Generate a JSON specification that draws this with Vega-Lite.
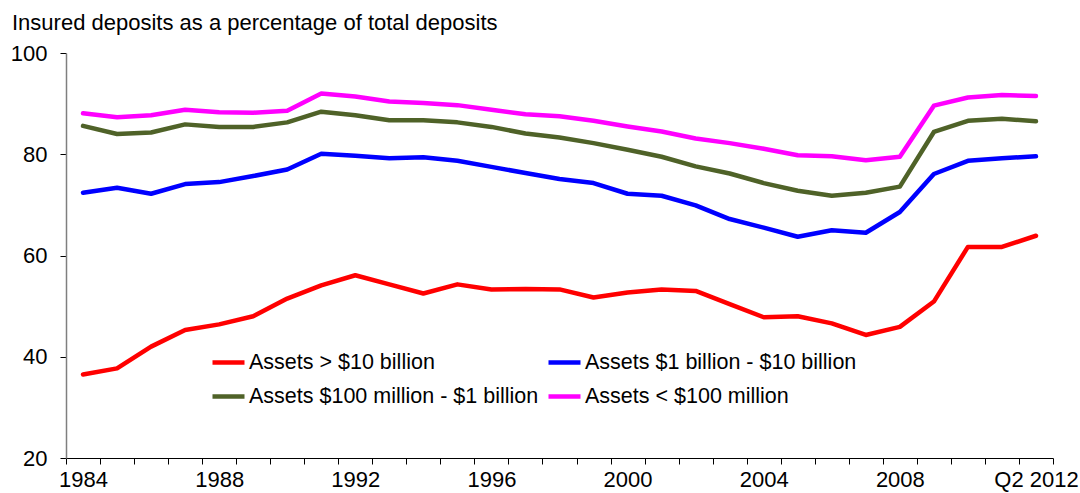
{
  "$schema": "https://vega.github.io/schema/vega-lite/v6.json",
  "width": 987,
  "height": 405,
  "autosize": {"type": "none"},
  "padding": {"left": 66, "top": 53, "right": 27, "bottom": 35},
  "background": "white",
  "title": {
    "text": "Insured deposits as a percentage of total deposits",
    "anchor": "start",
    "frame": "group",
    "dx": -54,
    "offset": -10,
    "baseline": "alphabetic",
    "font": "Liberation Sans",
    "fontSize": 22,
    "fontWeight": "normal",
    "color": "#000000"
  },
  "config": {
    "view": {"stroke": null},
    "font": "Liberation Sans"
  },
  "datasets": {
    "deposits": [
      {"period": "1984", "series": "Assets > $10 billion", "value": 36.5},
      {"period": "1985", "series": "Assets > $10 billion", "value": 37.7},
      {"period": "1986", "series": "Assets > $10 billion", "value": 42.0},
      {"period": "1987", "series": "Assets > $10 billion", "value": 45.3},
      {"period": "1988", "series": "Assets > $10 billion", "value": 46.4},
      {"period": "1989", "series": "Assets > $10 billion", "value": 48.0},
      {"period": "1990", "series": "Assets > $10 billion", "value": 51.5},
      {"period": "1991", "series": "Assets > $10 billion", "value": 54.1},
      {"period": "1992", "series": "Assets > $10 billion", "value": 56.1},
      {"period": "1993", "series": "Assets > $10 billion", "value": 54.3},
      {"period": "1994", "series": "Assets > $10 billion", "value": 52.5},
      {"period": "1995", "series": "Assets > $10 billion", "value": 54.3},
      {"period": "1996", "series": "Assets > $10 billion", "value": 53.3},
      {"period": "1997", "series": "Assets > $10 billion", "value": 53.4},
      {"period": "1998", "series": "Assets > $10 billion", "value": 53.3},
      {"period": "1999", "series": "Assets > $10 billion", "value": 51.7},
      {"period": "2000", "series": "Assets > $10 billion", "value": 52.7},
      {"period": "2001", "series": "Assets > $10 billion", "value": 53.3},
      {"period": "2002", "series": "Assets > $10 billion", "value": 53.0},
      {"period": "2003", "series": "Assets > $10 billion", "value": 50.4},
      {"period": "2004", "series": "Assets > $10 billion", "value": 47.8},
      {"period": "2005", "series": "Assets > $10 billion", "value": 48.0},
      {"period": "2006", "series": "Assets > $10 billion", "value": 46.6},
      {"period": "2007", "series": "Assets > $10 billion", "value": 44.3},
      {"period": "2008", "series": "Assets > $10 billion", "value": 45.9},
      {"period": "2009", "series": "Assets > $10 billion", "value": 50.9},
      {"period": "2010", "series": "Assets > $10 billion", "value": 61.7},
      {"period": "2011", "series": "Assets > $10 billion", "value": 61.7},
      {"period": "Q2 2012", "series": "Assets > $10 billion", "value": 63.9},

      {"period": "1984", "series": "Assets $1 billion - $10 billion", "value": 72.4},
      {"period": "1985", "series": "Assets $1 billion - $10 billion", "value": 73.4},
      {"period": "1986", "series": "Assets $1 billion - $10 billion", "value": 72.2},
      {"period": "1987", "series": "Assets $1 billion - $10 billion", "value": 74.1},
      {"period": "1988", "series": "Assets $1 billion - $10 billion", "value": 74.5},
      {"period": "1989", "series": "Assets $1 billion - $10 billion", "value": 75.7},
      {"period": "1990", "series": "Assets $1 billion - $10 billion", "value": 77.0},
      {"period": "1991", "series": "Assets $1 billion - $10 billion", "value": 80.1},
      {"period": "1992", "series": "Assets $1 billion - $10 billion", "value": 79.7},
      {"period": "1993", "series": "Assets $1 billion - $10 billion", "value": 79.2},
      {"period": "1994", "series": "Assets $1 billion - $10 billion", "value": 79.4},
      {"period": "1995", "series": "Assets $1 billion - $10 billion", "value": 78.7},
      {"period": "1996", "series": "Assets $1 billion - $10 billion", "value": 77.5},
      {"period": "1997", "series": "Assets $1 billion - $10 billion", "value": 76.3},
      {"period": "1998", "series": "Assets $1 billion - $10 billion", "value": 75.1},
      {"period": "1999", "series": "Assets $1 billion - $10 billion", "value": 74.3},
      {"period": "2000", "series": "Assets $1 billion - $10 billion", "value": 72.2},
      {"period": "2001", "series": "Assets $1 billion - $10 billion", "value": 71.8},
      {"period": "2002", "series": "Assets $1 billion - $10 billion", "value": 69.9},
      {"period": "2003", "series": "Assets $1 billion - $10 billion", "value": 67.2},
      {"period": "2004", "series": "Assets $1 billion - $10 billion", "value": 65.5},
      {"period": "2005", "series": "Assets $1 billion - $10 billion", "value": 63.7},
      {"period": "2006", "series": "Assets $1 billion - $10 billion", "value": 65.0},
      {"period": "2007", "series": "Assets $1 billion - $10 billion", "value": 64.5},
      {"period": "2008", "series": "Assets $1 billion - $10 billion", "value": 68.6},
      {"period": "2009", "series": "Assets $1 billion - $10 billion", "value": 76.1},
      {"period": "2010", "series": "Assets $1 billion - $10 billion", "value": 78.7},
      {"period": "2011", "series": "Assets $1 billion - $10 billion", "value": 79.2},
      {"period": "Q2 2012", "series": "Assets $1 billion - $10 billion", "value": 79.6},

      {"period": "1984", "series": "Assets $100 million - $1 billion", "value": 85.6},
      {"period": "1985", "series": "Assets $100 million - $1 billion", "value": 84.0},
      {"period": "1986", "series": "Assets $100 million - $1 billion", "value": 84.3},
      {"period": "1987", "series": "Assets $100 million - $1 billion", "value": 85.9},
      {"period": "1988", "series": "Assets $100 million - $1 billion", "value": 85.4},
      {"period": "1989", "series": "Assets $100 million - $1 billion", "value": 85.4},
      {"period": "1990", "series": "Assets $100 million - $1 billion", "value": 86.3},
      {"period": "1991", "series": "Assets $100 million - $1 billion", "value": 88.4},
      {"period": "1992", "series": "Assets $100 million - $1 billion", "value": 87.7},
      {"period": "1993", "series": "Assets $100 million - $1 billion", "value": 86.7},
      {"period": "1994", "series": "Assets $100 million - $1 billion", "value": 86.7},
      {"period": "1995", "series": "Assets $100 million - $1 billion", "value": 86.3},
      {"period": "1996", "series": "Assets $100 million - $1 billion", "value": 85.4},
      {"period": "1997", "series": "Assets $100 million - $1 billion", "value": 84.1},
      {"period": "1998", "series": "Assets $100 million - $1 billion", "value": 83.3},
      {"period": "1999", "series": "Assets $100 million - $1 billion", "value": 82.2},
      {"period": "2000", "series": "Assets $100 million - $1 billion", "value": 80.9},
      {"period": "2001", "series": "Assets $100 million - $1 billion", "value": 79.5},
      {"period": "2002", "series": "Assets $100 million - $1 billion", "value": 77.6},
      {"period": "2003", "series": "Assets $100 million - $1 billion", "value": 76.2},
      {"period": "2004", "series": "Assets $100 million - $1 billion", "value": 74.3},
      {"period": "2005", "series": "Assets $100 million - $1 billion", "value": 72.8},
      {"period": "2006", "series": "Assets $100 million - $1 billion", "value": 71.8},
      {"period": "2007", "series": "Assets $100 million - $1 billion", "value": 72.4},
      {"period": "2008", "series": "Assets $100 million - $1 billion", "value": 73.6},
      {"period": "2009", "series": "Assets $100 million - $1 billion", "value": 84.4},
      {"period": "2010", "series": "Assets $100 million - $1 billion", "value": 86.6},
      {"period": "2011", "series": "Assets $100 million - $1 billion", "value": 87.0},
      {"period": "Q2 2012", "series": "Assets $100 million - $1 billion", "value": 86.5},

      {"period": "1984", "series": "Assets < $100 million", "value": 88.1},
      {"period": "1985", "series": "Assets < $100 million", "value": 87.3},
      {"period": "1986", "series": "Assets < $100 million", "value": 87.7},
      {"period": "1987", "series": "Assets < $100 million", "value": 88.8},
      {"period": "1988", "series": "Assets < $100 million", "value": 88.3},
      {"period": "1989", "series": "Assets < $100 million", "value": 88.2},
      {"period": "1990", "series": "Assets < $100 million", "value": 88.6},
      {"period": "1991", "series": "Assets < $100 million", "value": 92.0},
      {"period": "1992", "series": "Assets < $100 million", "value": 91.4},
      {"period": "1993", "series": "Assets < $100 million", "value": 90.4},
      {"period": "1994", "series": "Assets < $100 million", "value": 90.1},
      {"period": "1995", "series": "Assets < $100 million", "value": 89.7},
      {"period": "1996", "series": "Assets < $100 million", "value": 88.8},
      {"period": "1997", "series": "Assets < $100 million", "value": 87.9},
      {"period": "1998", "series": "Assets < $100 million", "value": 87.5},
      {"period": "1999", "series": "Assets < $100 million", "value": 86.6},
      {"period": "2000", "series": "Assets < $100 million", "value": 85.5},
      {"period": "2001", "series": "Assets < $100 million", "value": 84.5},
      {"period": "2002", "series": "Assets < $100 million", "value": 83.1},
      {"period": "2003", "series": "Assets < $100 million", "value": 82.2},
      {"period": "2004", "series": "Assets < $100 million", "value": 81.1},
      {"period": "2005", "series": "Assets < $100 million", "value": 79.8},
      {"period": "2006", "series": "Assets < $100 million", "value": 79.6},
      {"period": "2007", "series": "Assets < $100 million", "value": 78.8},
      {"period": "2008", "series": "Assets < $100 million", "value": 79.5},
      {"period": "2009", "series": "Assets < $100 million", "value": 89.6},
      {"period": "2010", "series": "Assets < $100 million", "value": 91.2},
      {"period": "2011", "series": "Assets < $100 million", "value": 91.7},
      {"period": "Q2 2012", "series": "Assets < $100 million", "value": 91.5}
    ]
  },
  "data": {"name": "deposits"},
  "mark": {"type": "line", "strokeWidth": 4.5, "strokeJoin": "round", "strokeCap": "round"},
  "encoding": {
    "x": {
      "field": "period",
      "type": "ordinal",
      "sort": null,
      "bandPosition": 0.5,
      "scale": {"type": "band", "paddingInner": 0, "paddingOuter": 0},
      "axis": {
        "title": null,
        "labelAngle": 0,
        "labelFontSize": 22,
        "labelFont": "Liberation Sans",
        "labelColor": "#000000",
        "labelPadding": 5,
        "labelOverlap": false,
        "labelExpr": "indexof(['1984','1988','1992','1996','2000','2004','2008','Q2 2012'], datum.value) >= 0 ? datum.value : ''",
        "tickBand": "extent",
        "tickSize": 6,
        "tickColor": "#000000",
        "tickWidth": 1,
        "domainColor": "#000000",
        "domainWidth": 1,
        "grid": false
      }
    },
    "y": {
      "field": "value",
      "type": "quantitative",
      "scale": {"domain": [20, 100], "nice": false, "zero": false},
      "axis": {
        "title": null,
        "values": [20, 40, 60, 80, 100],
        "labelFontSize": 22,
        "labelFont": "Liberation Sans",
        "labelColor": "#000000",
        "labelPadding": 13,
        "tickSize": 6,
        "tickColor": "#000000",
        "domainColor": "#7f7f7f",
        "domainWidth": 1.5,
        "grid": false
      }
    },
    "color": {
      "field": "series",
      "type": "nominal",
      "scale": {
        "domain": ["Assets > $10 billion", "Assets $1 billion - $10 billion", "Assets $100 million - $1 billion", "Assets < $100 million"],
        "range": ["#ff0000", "#0000ff", "#4f6228", "#ff00ff"]
      },
      "legend": {
        "title": null,
        "orient": "none",
        "legendX": 144,
        "legendY": 291,
        "columns": 2,
        "direction": "horizontal",
        "padding": 0,
        "symbolType": "stroke",
        "symbolSize": 1024,
        "symbolStrokeWidth": 4.5,
        "labelFontSize": 21.5,
        "labelFont": "Liberation Sans",
        "labelColor": "#000000",
        "labelOffset": 2,
        "columnPadding": 0,
        "rowPadding": 5,
        "labelLimit": 500
      }
    }
  }
}
